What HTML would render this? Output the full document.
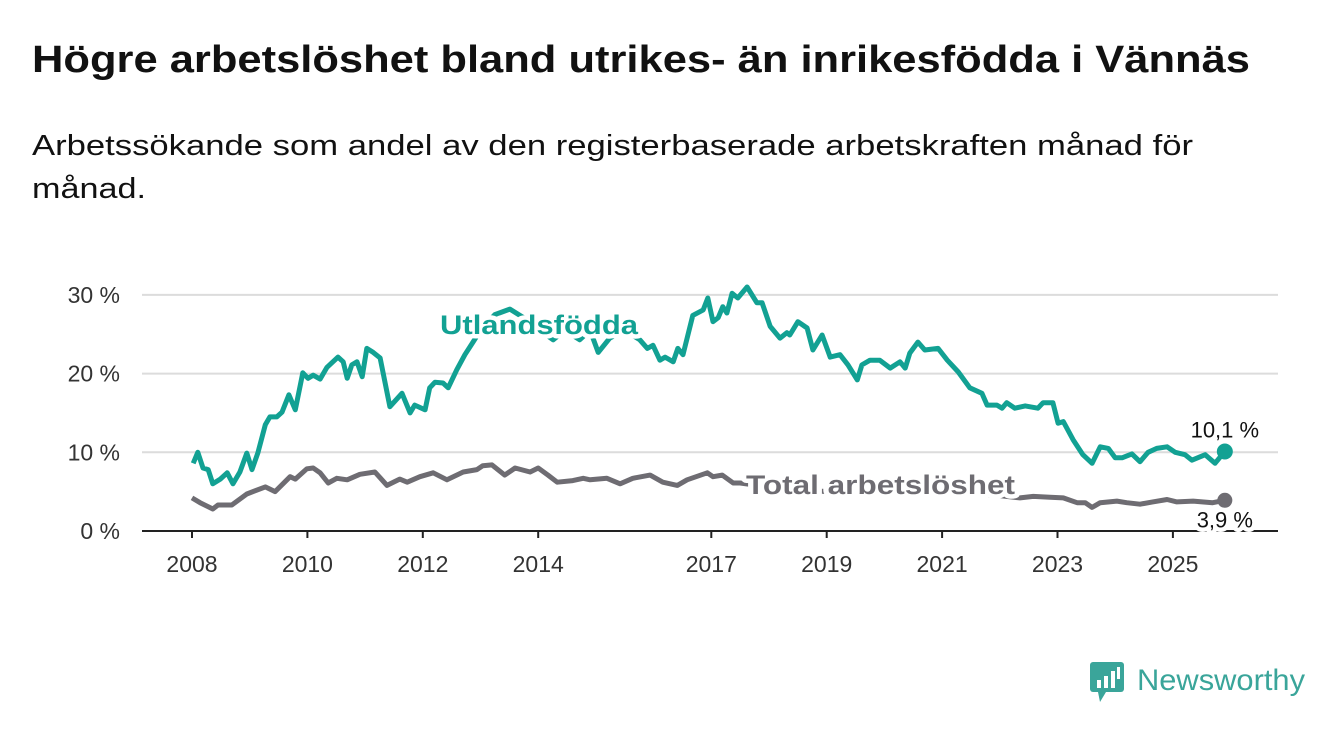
<!DOCTYPE html>
<html><head><meta charset="utf-8"><style>
html,body{margin:0;padding:0;background:#fff;width:1340px;height:734px;overflow:hidden}
svg{display:block;font-family:"Liberation Sans",sans-serif}
</style></head><body>
<svg id="chart" width="1340" height="734" viewBox="0 0 1340 734">
<text x="32" y="72" font-size="38" font-weight="bold" fill="#111" textLength="1218" lengthAdjust="spacingAndGlyphs">Högre arbetslöshet bland utrikes- än inrikesfödda i Vännäs</text>
<text x="32" y="155" font-size="29" fill="#111" textLength="1161" lengthAdjust="spacingAndGlyphs">Arbetssökande som andel av den registerbaserade arbetskraften månad för</text>
<text x="32" y="198" font-size="29" fill="#111" textLength="114" lengthAdjust="spacingAndGlyphs">månad.</text>
<g id="grid"></g><g id="axes"></g><g id="series"></g><g id="labels"></g>
<g>
<rect x="1090" y="662" width="34" height="30" rx="3" fill="#3aa59a"/>
<polygon points="1098,692 1106,692 1100,702" fill="#3aa59a"/>
<rect x="1097" y="680" width="4" height="8" fill="#fff"/><rect x="1104" y="676" width="4" height="12" fill="#fff"/><rect x="1111" y="671" width="4" height="17" fill="#fff"/><rect x="1117" y="667" width="3" height="12" fill="#fff"/>
<text x="1137" y="690" font-size="30" fill="#3aa59a" textLength="168" lengthAdjust="spacingAndGlyphs">Newsworthy</text>
</g>
</svg>
<script>
const yTicks=[0,10,20,30];
const yTickLabels=["0 %","10 %","20 %","30 %"];
const xTicks=[2008,2010,2012,2014,2017,2019,2021,2023,2025];
const xTickLabels=["2008","2010","2012","2014","2017","2019","2021","2023","2025"];
const foreignT=[2008.02,2008.10,2008.19,2008.28,2008.36,2008.49,2008.61,2008.71,2008.83,2008.95,2009.04,2009.14,2009.27,2009.35,2009.47,2009.56,2009.68,2009.79,2009.92,2010.01,2010.10,2010.22,2010.34,2010.53,2010.62,2010.69,2010.77,2010.86,2010.95,2011.03,2011.14,2011.26,2011.43,2011.64,2011.78,2011.86,2012.04,2012.12,2012.21,2012.35,2012.44,2012.59,2012.73,2012.87,2013.0,2013.25,2013.51,2013.77,2014.03,2014.26,2014.46,2014.72,2014.90,2015.04,2015.24,2015.50,2015.76,2015.89,2015.99,2016.11,2016.20,2016.34,2016.42,2016.51,2016.68,2016.86,2016.94,2017.03,2017.12,2017.20,2017.27,2017.36,2017.46,2017.62,2017.79,2017.88,2018.02,2018.19,2018.31,2018.36,2018.50,2018.66,2018.76,2018.92,2019.06,2019.23,2019.37,2019.53,2019.61,2019.75,2019.92,2020.10,2020.27,2020.36,2020.44,2020.58,2020.70,2020.93,2021.09,2021.28,2021.48,2021.69,2021.78,2021.95,2022.04,2022.12,2022.26,2022.44,2022.66,2022.75,2022.92,2023.01,2023.10,2023.27,2023.44,2023.60,2023.74,2023.88,2024.00,2024.12,2024.29,2024.43,2024.57,2024.72,2024.90,2025.04,2025.21,2025.33,2025.56,2025.73,2025.90];
const foreignV=[8.6,10.0,8.0,7.8,6.0,6.6,7.4,6.0,7.5,9.9,7.8,9.9,13.5,14.5,14.5,15.1,17.3,15.4,20.1,19.4,19.8,19.3,20.8,22.1,21.5,19.4,21.1,21.5,19.6,23.2,22.7,22.0,15.8,17.5,15.0,16.0,15.4,18.2,18.9,18.8,18.2,20.5,22.4,24.0,25.5,27.5,28.2,27.0,25.5,24.3,25.5,24.3,25.5,22.7,24.5,25.5,24.3,23.2,23.6,21.7,22.1,21.5,23.2,22.4,27.4,28.1,29.6,26.6,27.1,28.5,27.7,30.2,29.6,31.0,29.0,29.0,26.0,24.5,25.2,24.9,26.6,25.8,23.0,24.9,22.1,22.4,21.1,19.2,21.1,21.7,21.7,20.7,21.5,20.7,22.6,24.0,23.0,23.2,21.7,20.2,18.2,17.5,16.0,16.0,15.6,16.3,15.6,15.9,15.6,16.3,16.3,13.7,13.9,11.6,9.7,8.6,10.7,10.5,9.3,9.3,9.8,8.8,10.0,10.5,10.7,10.0,9.7,9.0,9.7,8.6,10.1];
const totalT=[2008.00,2008.14,2008.36,2008.45,2008.69,2008.95,2009.27,2009.44,2009.70,2009.79,2009.99,2010.10,2010.22,2010.36,2010.51,2010.69,2010.91,2011.17,2011.38,2011.60,2011.73,2011.95,2012.18,2012.42,2012.70,2012.94,2013.04,2013.20,2013.42,2013.60,2013.86,2014.00,2014.17,2014.33,2014.60,2014.78,2014.90,2015.19,2015.42,2015.64,2015.94,2016.16,2016.41,2016.58,2016.93,2017.03,2017.19,2017.38,2017.50,2018.0,2018.5,2019.0,2019.5,2020.0,2020.5,2021.0,2021.5,2022.0,2022.35,2022.58,2022.87,2023.10,2023.34,2023.48,2023.60,2023.74,2024.03,2024.20,2024.43,2024.65,2024.90,2025.07,2025.35,2025.69,2025.90];
const totalV=[4.2,3.6,2.8,3.3,3.3,4.7,5.6,5.0,6.9,6.6,7.9,8.0,7.4,6.1,6.7,6.5,7.2,7.5,5.8,6.6,6.2,6.9,7.4,6.5,7.5,7.8,8.3,8.4,7.1,8.0,7.5,8.0,7.1,6.2,6.4,6.7,6.5,6.7,6.0,6.7,7.1,6.2,5.8,6.5,7.4,6.9,7.1,6.1,6.1,5.6,5.3,5.0,5.6,5.2,6.5,5.5,4.8,4.5,4.2,4.4,4.3,4.2,3.6,3.6,3.0,3.6,3.8,3.6,3.4,3.7,4.0,3.7,3.8,3.6,3.9];
const X0=142,X1=1278;
function xs(t){return 192+57.7*(t-2008);}
function ys(v){return 531-7.87*v;}
const NS="http://www.w3.org/2000/svg";
function mk(tag,attrs,parent,txt){const e=document.createElementNS(NS,tag);for(const k in attrs)e.setAttribute(k,attrs[k]);if(txt!==undefined)e.textContent=txt;parent.appendChild(e);return e;}
const grid=document.getElementById('grid'),axes=document.getElementById('axes'),series=document.getElementById('series'),labels=document.getElementById('labels');
yTicks.forEach((v,i)=>{
  if(v>0){const g=mk('line',{x1:X0,x2:X1,y1:ys(v),y2:ys(v),stroke:'#dcdcdc','stroke-width':2},grid);
  
  }
  const t=mk('text',{x:120,y:ys(v)+8,'font-size':23,'text-anchor':'end',fill:'#333'},axes,yTickLabels[i]);
  
  
});
const ax=mk('line',{x1:X0,x2:X1,y1:531,y2:531,stroke:'#222','stroke-width':2},axes);


xTicks.forEach((yr,i)=>{
  const tk=mk('line',{x1:xs(yr),x2:xs(yr),y1:531,y2:538,stroke:'#222','stroke-width':2},axes);
  
  
  const t=mk('text',{x:xs(yr),y:572,'font-size':23,'text-anchor':'middle',fill:'#333'},axes,xTickLabels[i]);
  
  
});
function path(T,V){return T.map((t,i)=>(i?'L':'M')+xs(t).toFixed(1)+','+ys(V[i]).toFixed(1)).join(' ');}
const pt=mk('path',{d:path(totalT,totalV),fill:'none',stroke:'#6e6c72','stroke-width':5,'stroke-linejoin':'round'},series);


const pf=mk('path',{d:path(foreignT,foreignV),fill:'none',stroke:'#12a193','stroke-width':5,'stroke-linejoin':'round'},series);


const lf=foreignT.length-1,lt=totalT.length-1;
const d1=mk('circle',{cx:xs(foreignT[lf]),cy:ys(foreignV[lf]),r:8,fill:'#12a193'},series);


const d2=mk('circle',{cx:xs(totalT[lt]),cy:ys(totalV[lt]),r:7.5,fill:'#6e6c72'},series);


const halo={stroke:'#fff','stroke-width':9,'paint-order':'stroke','stroke-linejoin':'round'};
function lab(x,y,txt,extra){const a=Object.assign({x:x,y:y},halo,extra);return mk('text',a,labels,txt);}
const l1=lab(440,334,'Utlandsfödda',{'font-size':27,'font-weight':'bold',fill:'#12a193',textLength:198,lengthAdjust:'spacingAndGlyphs'});


const l2=lab(746,494,'Total arbetslöshet',{'font-size':27,'font-weight':'bold',fill:'#6e6c72',textLength:269,lengthAdjust:'spacingAndGlyphs'});


const v1=lab(xs(foreignT[lf]),ys(foreignV[lf])-14,foreignV[lf].toFixed(1).replace('.',',')+' %',{'font-size':22,fill:'#111','text-anchor':'middle'});


const v2=lab(xs(totalT[lt]),ys(totalV[lt])+27,totalV[lt].toFixed(1).replace('.',',')+' %',{'font-size':22,fill:'#111','text-anchor':'middle'});


</script>
</body></html>
